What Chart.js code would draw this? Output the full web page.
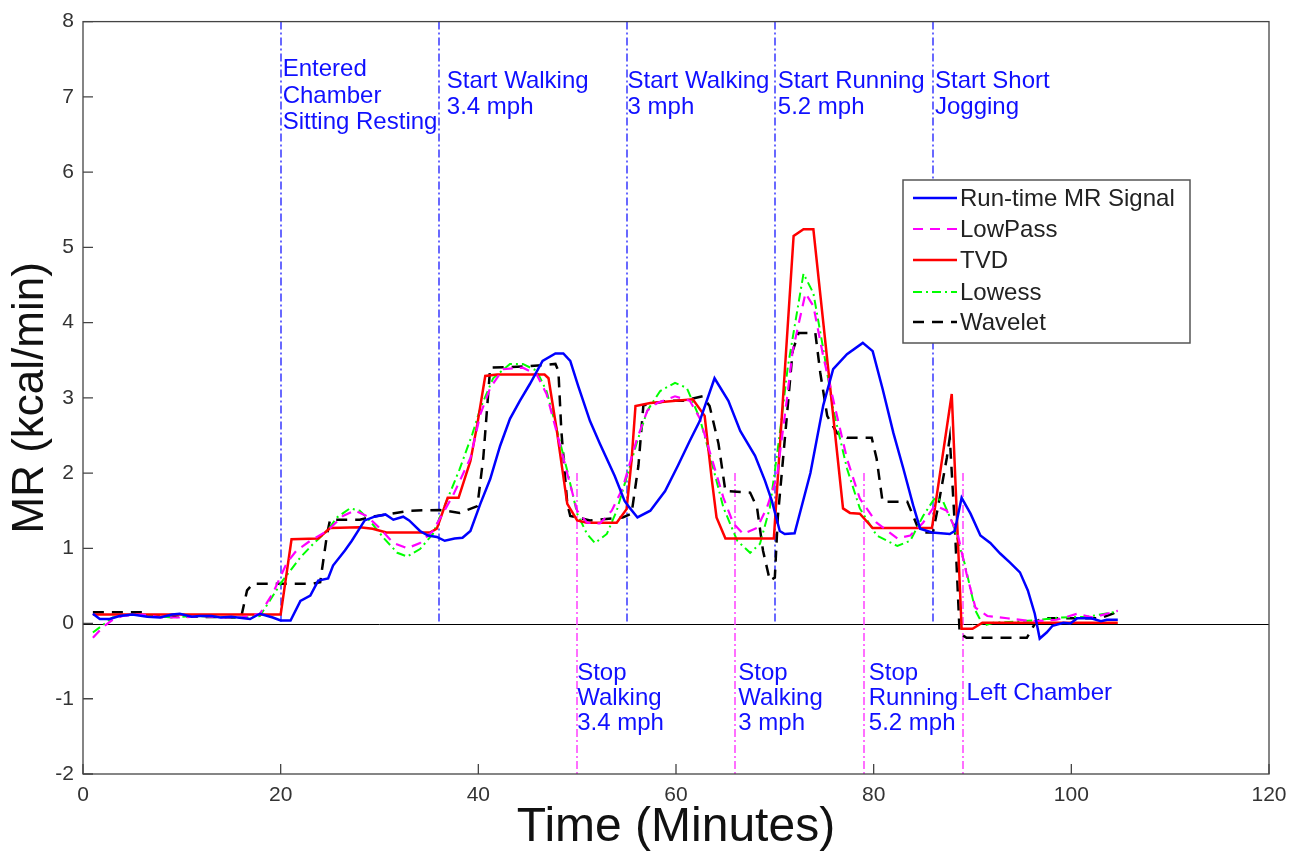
<!DOCTYPE html>
<html>
<head>
<meta charset="utf-8">
<title>MR signal filters</title>
<script src="https://cdn.jsdelivr.net/npm/chart.js@4.4.1/dist/chart.umd.min.js"></script>
<style>
  html, body { margin: 0; padding: 0; background: #fff; }
  #wrap { width: 1303px; height: 862px; position: relative; }
</style>
</head>
<body>
<div id="wrap"><canvas id="mrChart"></canvas></div>
<script>
// ---- data (time in minutes, MR in kcal/min) ----
const runtimeT = [1,1.7,2.7,3.7,5,6.5,7.8,9,9.8,11,11.8,13,13.9,15,16.9,17.9,19.2,20,21,22,23,23.8,24.8,25.3,26.5,27.2,28.5,29.5,30.6,31.4,32.4,33,34.1,34.9,35.8,36.6,37.6,38.4,39.2,40.2,41.2,42.2,43.2,44.2,45.2,46.5,47.8,48.6,49.3,50.1,51.3,52.3,53.8,54.8,55.3,56.1,57.4,58.9,60.2,61.4,62.4,63.9,65.3,66.5,68,69,69.7,70.5,71,72,73.6,74.9,75.9,77.3,78.9,79.9,80.9,82,83,84,84.7,85.9,87.7,88.2,88.9,89.8,90.8,91.8,92.8,93.8,94.8,95.6,96.3,96.8,97.5,98.1,99.2,99.9,100.6,102,103,103.6,104.7];
const runtimeMR = [0.13,0.06,0.06,0.1,0.12,0.09,0.08,0.12,0.13,0.09,0.1,0.1,0.08,0.09,0.06,0.13,0.08,0.04,0.04,0.3,0.37,0.57,0.6,0.77,0.97,1.1,1.37,1.42,1.45,1.38,1.42,1.37,1.23,1.17,1.15,1.1,1.13,1.14,1.23,1.59,1.92,2.36,2.72,2.96,3.18,3.49,3.59,3.59,3.49,3.16,2.69,2.39,1.96,1.63,1.54,1.41,1.5,1.76,2.1,2.43,2.69,3.26,2.96,2.56,2.23,1.9,1.63,1.23,1.19,1.2,2.0,2.9,3.38,3.58,3.73,3.62,3.12,2.53,2.06,1.57,1.26,1.21,1.19,1.23,1.67,1.46,1.17,1.07,0.93,0.81,0.68,0.44,0.13,-0.2,-0.12,-0.03,0.01,0,0.07,0.07,0.03,0.05,0.05];

const lowpassT = [1,2,3,4,6,8,10,12,14,16,17.9,19.2,20.6,21.6,23,24.7,26.3,27.5,28.7,30,31.4,32.8,34.1,35.4,36.4,37.5,39.2,40.2,41.2,42.5,44.5,45.9,46.9,47.9,49,50,51,52.3,53.5,54.6,56,57.1,58.1,59.9,61.4,62.4,63.4,64.8,65.8,66.8,68.2,69.2,70.2,71.2,71.8,73.1,73.9,74.9,75.9,77.3,78.6,80.3,82.4,83.7,85,86.2,87.4,88.5,89.4,90.3,91.5,93.5,96,98.5,100.6,102.2,104.7];
const lowpassMR = [-0.19,-0.05,0.05,0.1,0.12,0.08,0.08,0.1,0.08,0.08,0.13,0.4,0.8,0.97,1.1,1.23,1.43,1.5,1.43,1.27,1.07,1.0,1.07,1.23,1.46,1.72,2.2,2.78,3.13,3.38,3.4,3.31,3.05,2.56,1.99,1.5,1.34,1.33,1.5,1.8,2.43,2.83,2.93,3.02,2.96,2.73,2.29,1.67,1.33,1.19,1.27,1.54,1.94,2.96,3.62,4.39,4.22,3.55,2.98,2.19,1.66,1.34,1.13,1.17,1.34,1.57,1.5,1.19,0.66,0.21,0.1,0.07,0.03,0.05,0.13,0.08,0.17];

const tvdT = [1,20,21.1,23.8,25,28,29.3,30.7,35.1,35.8,36.9,38,39.2,39.9,40.7,41.9,46.7,47.1,47.9,49,50,51,54,55,55.5,55.9,57.4,61.7,62.9,63.6,64.1,65,69.9,71.9,72.9,73.9,76.9,77.6,78.6,79.9,85.9,87.9,88.9,90,91,104.7];
const tvdMR = [0.12,0.12,1.12,1.13,1.27,1.28,1.26,1.21,1.21,1.26,1.67,1.67,2.16,2.65,3.29,3.31,3.31,3.26,2.6,1.59,1.37,1.34,1.34,1.52,2.16,2.89,2.93,2.98,2.76,1.94,1.41,1.13,1.13,5.15,5.24,5.24,1.53,1.47,1.46,1.27,1.27,3.05,-0.07,-0.07,0.01,0.01];

const lowessT = [1,2,3,5,7,9,11,13,15,16.5,17.9,20.2,22,23.3,24.7,25.7,27,28,29,30.4,31.8,32.8,34.1,35.4,36.8,38.1,39.4,40.2,41.5,43.2,44.5,45.9,46.9,47.9,49,50,51,51.8,53,54,55,56.1,57.1,58.4,59.9,61.1,62.4,63.4,64.8,66.2,67.5,68.5,69.5,70.5,71.3,72.9,73.9,74.9,75.9,77.3,78.6,80.3,82.4,83.7,85,86.2,87,88,89.2,90.3,91.1,92.1,96.1,98.9,101.6,104.7];
const lowessMR = [-0.12,-0.02,0.08,0.12,0.1,0.08,0.1,0.09,0.08,0.08,0.1,0.57,0.88,1.06,1.23,1.41,1.53,1.5,1.37,1.14,0.94,0.89,0.99,1.19,1.63,2.05,2.52,2.86,3.26,3.45,3.45,3.36,3.09,2.6,2.03,1.46,1.19,1.07,1.19,1.5,1.94,2.43,2.83,3.09,3.2,3.13,2.73,2.25,1.54,1.1,0.94,1.06,1.54,2.52,3.4,4.65,4.39,3.65,2.85,2.06,1.53,1.17,1.03,1.1,1.43,1.67,1.63,1.33,0.8,0.17,-0.03,0.01,0.04,0.08,0.09,0.16];

const waveletT = [1,6,6.5,16,16.6,17.2,23.3,24,24.7,25,28,29.7,33.1,36.1,38.1,39.9,40.5,41.2,45.2,47.8,48.1,48.4,49,49.3,51.3,54.6,55.5,56.2,56.7,59.1,60.7,62.7,63.4,64.3,65,67.5,68.2,68.8,69.5,70,70.3,71.2,71.8,72.4,74.1,74.6,75.3,76.3,77.3,79.8,80.3,80.9,83.4,84.4,85,86,86.5,87.4,87.7,88.2,88.7,89.4,95.5,96.5,97.5,102.9,104.2,104.7];
const waveletMR = [0.15,0.15,0.1,0.08,0.44,0.53,0.53,0.55,1.19,1.38,1.38,1.43,1.5,1.51,1.47,1.56,2.2,3.4,3.42,3.45,3.36,2.56,1.59,1.43,1.37,1.41,1.46,2.1,2.9,2.96,2.96,3.02,2.89,2.39,1.76,1.74,1.54,0.97,0.57,0.61,1.41,2.73,3.62,3.86,3.86,3.33,2.76,2.53,2.47,2.47,2.19,1.62,1.62,1.3,1.21,1.21,1.54,2.2,2.47,1.33,-0.13,-0.19,-0.19,0.04,0.07,0.07,0.13,0.17];

// event markers
const startTimes = [20, 36, 55, 70, 86];
const startLabels = [['Entered', 'Chamber', 'Sitting Resting'], ['Start Walking', '3.4 mph'], ['Start Walking', '3 mph'], ['Start Running', '5.2 mph'], ['Start Short', 'Jogging']];
const stopTimes = [50, 66, 79, 89];
const stopLabels = [['Stop', 'Walking', '3.4 mph'], ['Stop', 'Walking', '3 mph'], ['Stop', 'Running', '5.2 mph'], ['Left Chamber']];

const xTicks = [0, 20, 40, 60, 80, 100, 120];

const FONT = '"Liberation Sans", Arial, Helvetica, sans-serif';

function pts(t, v) {
  return t.map((x, i) => ({ x: x, y: v[i] }));
}

// vertical event lines, annotation text, legend box and frame
const eventPlugin = {
  id: 'events',
  beforeDatasetsDraw(chart) {
    const { ctx, chartArea: a, scales: { x, y } } = chart;
    const y0 = y.getPixelForValue(0);
    ctx.save();
    ctx.strokeStyle = '#000';
    ctx.lineWidth = 1;
    ctx.beginPath();
    ctx.moveTo(a.left, Math.round(y0) + 0.5);
    ctx.lineTo(a.right, Math.round(y0) + 0.5);
    ctx.stroke();

    ctx.setLineDash([8, 3, 2, 3]);
    ctx.lineWidth = 1.4;
    ctx.strokeStyle = '#2a2aff';
    startTimes.forEach(t => {
      const px = Math.round(x.getPixelForValue(t));
      ctx.beginPath();
      ctx.moveTo(px, a.top);
      ctx.lineTo(px, y0);
      ctx.stroke();
    });
    ctx.strokeStyle = '#ff33ff';
    stopTimes.forEach(t => {
      const px = Math.round(x.getPixelForValue(t));
      ctx.beginPath();
      ctx.moveTo(px, y.getPixelForValue(2));
      ctx.lineTo(px, a.bottom);
      ctx.stroke();
    });
    ctx.restore();
  },
  afterDatasetsDraw(chart) {
    const { ctx, chartArea: a, scales: { x, y } } = chart;
    ctx.save();

    // annotation text
    ctx.font = '24px ' + FONT;
    ctx.fillStyle = '#1010ff';
    ctx.textAlign = 'left';
    ctx.textBaseline = 'middle';
    const startOffsets = [2, 8, 1, 3, 2];
    startLabels.forEach((lines, i) => {
      const px = x.getPixelForValue(startTimes[i]) + startOffsets[i];
      const top = y.getPixelForValue(i === 0 ? 7.36 : 7.21);
      lines.forEach((s, j) => ctx.fillText(s, px, top + j * 26.5));
    });
    const stopOffsets = [0, 3, 5, 4];
    stopLabels.forEach((lines, i) => {
      const px = x.getPixelForValue(stopTimes[i]) + stopOffsets[i];
      const top = y.getPixelForValue(lines.length === 1 ? -0.93 : -0.66);
      lines.forEach((s, j) => ctx.fillText(s, px, top + j * 25));
    });

    // legend box
    const lx = 903, ly = 180, lw = 287, lh = 163;
    ctx.fillStyle = '#fff';
    ctx.fillRect(lx, ly, lw, lh);
    ctx.strokeStyle = '#555';
    ctx.lineWidth = 1.5;
    ctx.strokeRect(lx, ly, lw, lh);
    const rows = [198, 229, 260, 292, 322];
    chart.data.datasets.forEach((ds, i) => {
      ctx.save();
      ctx.strokeStyle = ds.borderColor;
      ctx.lineWidth = ds.borderWidth;
      ctx.setLineDash(ds.borderDash || []);
      ctx.beginPath();
      ctx.moveTo(lx + 10, rows[i]);
      ctx.lineTo(lx + 54, rows[i]);
      ctx.stroke();
      ctx.restore();
      ctx.font = '24px ' + FONT;
      ctx.fillStyle = '#222';
      ctx.fillText(ds.label, lx + 57, rows[i] + 1);
    });

    // frame and inward ticks
    ctx.strokeStyle = '#444';
    ctx.lineWidth = 1.3;
    ctx.strokeRect(a.left, a.top, a.right - a.left, a.bottom - a.top);
    ctx.beginPath();
    xTicks.forEach(t => {
      const px = x.getPixelForValue(t);
      ctx.moveTo(px, a.bottom);
      ctx.lineTo(px, a.bottom - 10);
    });
    for (let v = -2; v <= 8; v++) {
      const py = y.getPixelForValue(v);
      ctx.moveTo(a.left, py);
      ctx.lineTo(a.left + 10, py);
    }
    ctx.stroke();
    ctx.restore();
  }
};

const ctx = document.getElementById('mrChart').getContext('2d');
const mrChart = new Chart(ctx, {
  type: 'line',
  data: {
    datasets: [{
      label: 'Run-time MR Signal',
      data: pts(runtimeT, runtimeMR),
      borderColor: '#0000ff',
      borderWidth: 2.5
    }, {
      label: 'LowPass',
      data: pts(lowpassT, lowpassMR),
      borderColor: '#ff00ff',
      borderWidth: 2.2,
      borderDash: [10, 7]
    }, {
      label: 'TVD',
      data: pts(tvdT, tvdMR),
      borderColor: '#ff0000',
      borderWidth: 2.5
    }, {
      label: 'Lowess',
      data: pts(lowessT, lowessMR),
      borderColor: '#00ff00',
      borderWidth: 2,
      borderDash: [9, 4, 2, 4]
    }, {
      label: 'Wavelet',
      data: pts(waveletT, waveletMR),
      borderColor: '#000000',
      borderWidth: 2.5,
      borderDash: [11, 8]
    }]
  },
  options: {
    responsive: true,
    maintainAspectRatio: false,
    animation: false,
    layout: { padding: { left: 0, top: 20, right: 34, bottom: 0 } },
    elements: { point: { radius: 0 }, line: { tension: 0, fill: false } },
    plugins: { legend: { display: false }, tooltip: { enabled: false } },
    scales: {
      x: {
        type: 'linear',
        min: 0,
        max: 120,
        grid: { display: false, drawTicks: false },
        border: { display: false },
        ticks: { stepSize: 20, color: '#333', padding: 9, maxRotation: 0, font: { size: 21, family: FONT } },
        title: { display: true, text: 'Time (Minutes)', color: '#111', padding: { top: 0, bottom: 5 }, font: { size: 48, family: FONT } },
        afterFit(scale) { scale.height = 88; }
      },
      y: {
        min: -2,
        max: 8,
        grid: { display: false, drawTicks: false },
        border: { display: false },
        ticks: { stepSize: 1, color: '#333', padding: 9, font: { size: 21, family: FONT } },
        title: { display: true, text: 'MR (kcal/min)', color: '#111', padding: { top: 4, bottom: 0 }, font: { size: 44, family: FONT } },
        afterFit(scale) { scale.width = 83; }
      }
    }
  },
  plugins: [eventPlugin]
});
</script>
</body>
</html>
